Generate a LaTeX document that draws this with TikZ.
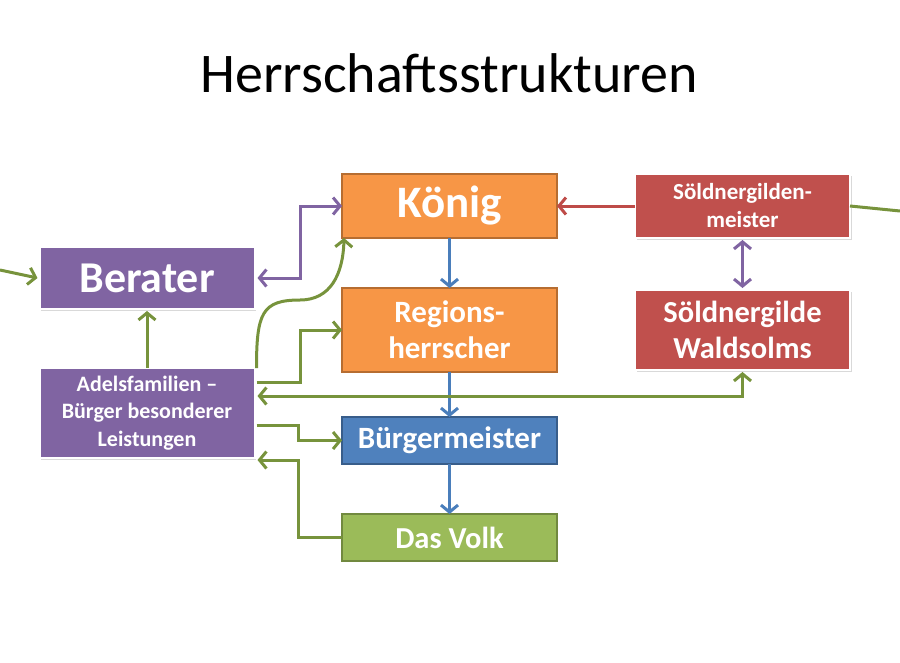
\documentclass[tikz,border=0pt]{standalone}
\usepackage{fontspec}
\setmainfont{Carlito}
\usetikzlibrary{arrows.meta,shadows}
\definecolor{boxorange}{RGB}{247,150,70}
\definecolor{lineorange}{RGB}{182,109,49}
\definecolor{boxblue}{RGB}{79,129,189}
\definecolor{lineblue}{RGB}{56,93,138}
\definecolor{boxgreen}{RGB}{155,187,89}
\definecolor{linegreen}{RGB}{113,137,63}
\definecolor{boxpurple}{RGB}{128,100,162}
\definecolor{boxred}{RGB}{192,80,77}
\definecolor{arrowgreen}{RGB}{119,147,60}
\definecolor{arrowblue}{RGB}{74,126,187}
\definecolor{arrowred}{RGB}{190,75,72}
\definecolor{arrowpurple}{RGB}{128,100,162}
\tikzset{
  box/.style={
    rectangle,
    inner sep=0pt,
    outer sep=0pt,
    minimum width=215pt,
    align=center,
    text=white
  },
  box-orange/.style={box, fill=boxorange, draw=lineorange, line width=1.5pt},
  box-blue/.style={box, fill=boxblue, draw=lineblue, line width=1.5pt},
  box-green/.style={box, fill=boxgreen, draw=linegreen, line width=1.5pt},
  box-purple/.style={box, fill=boxpurple, draw=white, line width=2pt,
    drop shadow={shadow xshift=1.5pt, shadow yshift=-2pt, opacity=0.3}},
  box-red/.style={box, fill=boxred, draw=white, line width=2pt,
    drop shadow={shadow xshift=1.5pt, shadow yshift=-2pt, opacity=0.3}},
  link/.style={line width=3pt, >={Straight Barb[length=7pt,width=17pt]}},
  link-green/.style={link, draw=arrowgreen},
  link-blue/.style={link, draw=arrowblue},
  link-red/.style={link, draw=arrowred},
  link-purple/.style={link, draw=arrowpurple}
}
\newcommand{\boxfont}[2]{\bfseries\fontsize{#1}{#2}\selectfont}

\begin{document}
\begin{tikzpicture}[x=1pt, y=-1pt]
  \useasboundingbox (0,0) rectangle (900,662);
  \node[font=\fontsize{56}{60}\selectfont] (title) at (449,73) {Herrschaftsstrukturen};
  % middle column
  \node[box-orange, minimum height=64pt, font=\boxfont{45}{50}] (koenig) at (449.5,206) {König};
  \node[box-orange, minimum height=84pt, font=\boxfont{31}{36}] (regions) at (449.5,330) {Regions-\\herrscher};
  \node[box-blue, minimum height=47pt, font=\boxfont{31}{34}] (buerger) at (449.5,440.5) {Bürgermeister};
  \node[box-green, minimum height=47pt, font=\boxfont{30.5}{34}] (volk) at (449.5,537.5) {Das Volk};
  % left column
  \node[box-purple, minimum height=62pt, font=\boxfont{44}{50}] (berater) at (147,278) {Berater};
  \node[box-purple, minimum height=90pt, font=\boxfont{22}{27.5}] (adel) at (147,413) {Adelsfamilien --\\Bürger besonderer\\Leistungen};
  % right column
  \node[box-red, minimum height=64pt, font=\boxfont{23}{28}] (meister) at (742.5,206) {Söldnergilden-\\meister};
  \node[box-red, minimum height=80pt, font=\boxfont{30.5}{36}] (gilde) at (742.5,330) {Söldnergilde\\Waldsolms};
  \coordinate (lin) at (0,270);
  \coordinate (rout) at (900,211);
  \coordinate (bend) at (300,300);
  % blue chain
  \draw[link-blue,->] (koenig) -- (regions);
  \draw[link-blue,->] (regions) -- (buerger);
  \draw[link-blue,->] (buerger) -- (volk);
  % red and purple
  \draw[link-red,->] (meister) -- (koenig);
  \draw[link-purple,<->] ([yshift=-2pt]meister.south) -- ([yshift=2pt]gilde.north);
  \draw[link-purple,<->] ([xshift=3pt]berater.east) -- ++(43,0) |- (koenig.west);
  % green links
  \draw[link-green,->] (lin) -- ([xshift=-2pt]berater.west);
  \draw[link-green] (meister.east) -- (rout);
  \draw[link-green,->] (adel) -- ([yshift=-2pt]berater.south);
  \draw[link-green,->] ([xshift=2pt]adel.north east) .. controls +(0,-55) and (262,300) .. (bend)
    .. controls (330,300) and (343,275) .. ([xshift=2pt]koenig.south west);
  \draw[link-green,->] ([xshift=2pt, yshift=-14pt]adel.north east) -- ++(44,0) |- (regions.west);
  \draw[link-green,<->] ([xshift=3pt, yshift=17pt]adel.east) -| ([yshift=-2pt]gilde.south);
  \draw[link-green,->] ([xshift=2pt, yshift=-12pt]adel.east) -- ++(42,0) |- (buerger.west);
  \draw[link-green,->] (volk.west) -- ++(-44,0) |- ([xshift=3pt, yshift=-2pt]adel.south east);
\end{tikzpicture}
\end{document}
